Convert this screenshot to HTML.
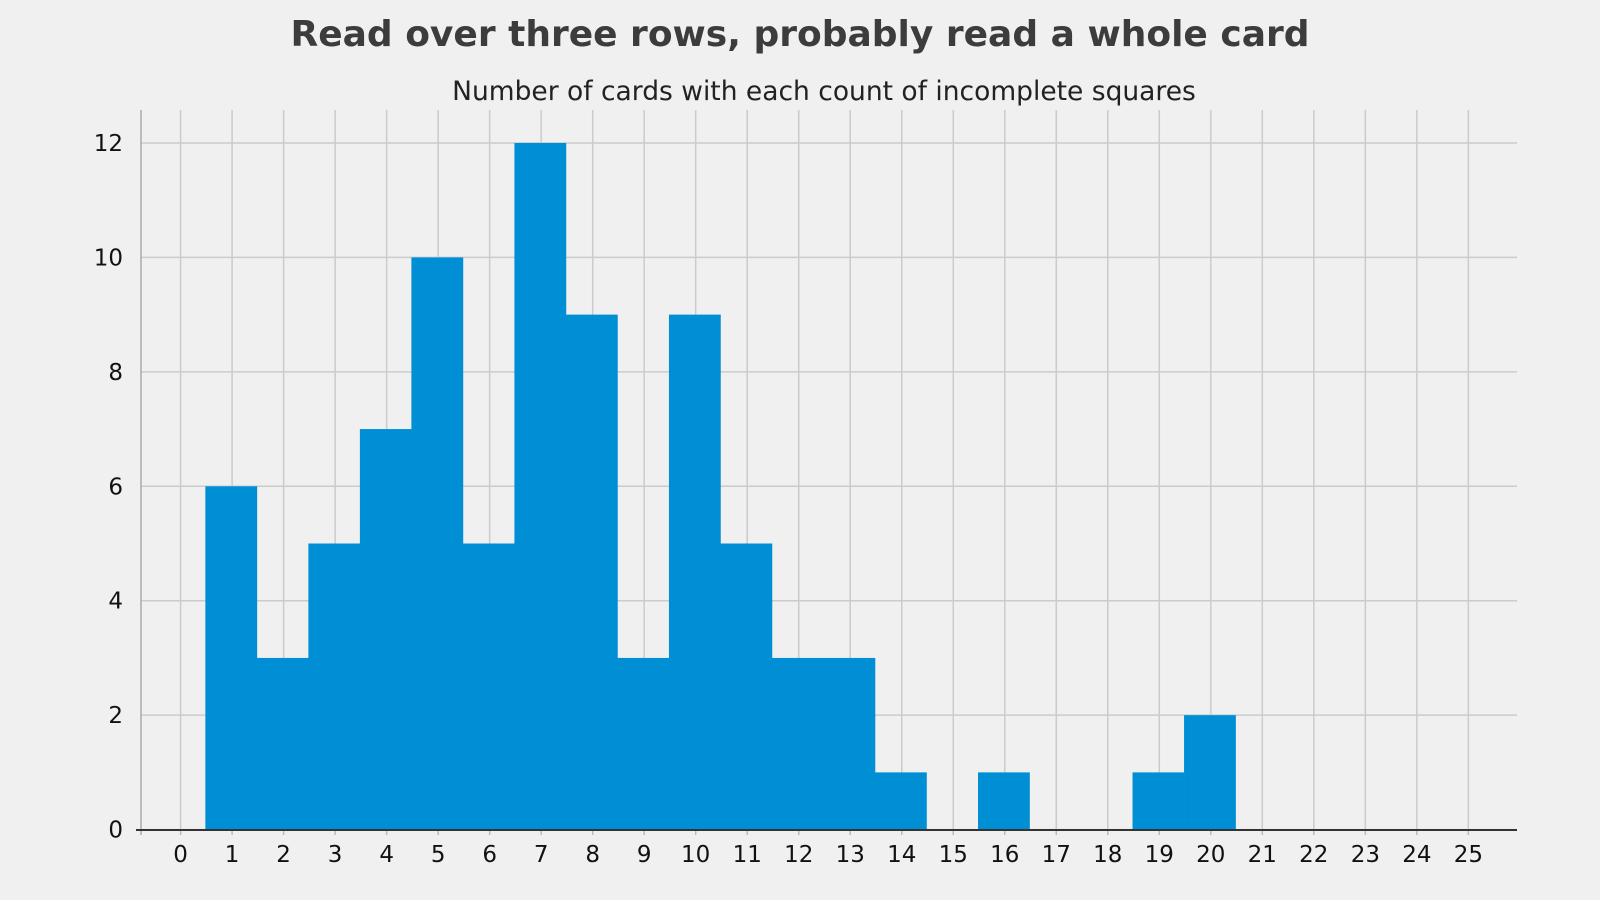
<!DOCTYPE html>
<html><head><meta charset="utf-8"><style>
html,body{margin:0;padding:0;background:#f0f0f0;}
svg{display:block;font-family:"DejaVu Sans","Liberation Sans",sans-serif;}
</style></head><body>
<svg id="chart" width="1600" height="900" viewBox="0 0 1600 900">
<rect width="1600" height="900" fill="#f0f0f0"/>
<text x="800" y="46" text-anchor="middle" font-size="36" font-weight="bold" fill="#3c3c3c">Read over three rows, probably read a whole card</text>
<text x="824" y="100" text-anchor="middle" font-size="26.5" fill="#222">Number of cards with each count of incomplete squares</text>
<g id="grid"></g><g id="bars"></g><g id="axes"></g>
</svg>
<script>
const categories=[0,1,2,3,4,5,6,7,8,9,10,11,12,13,14,15,16,17,18,19,20,21,22,23,24,25];
const counts=[0,6,3,5,7,10,5,12,9,3,9,5,3,3,1,0,1,0,0,1,2,0,0,0,0,0];
const yTicks=[0,2,4,6,8,10,12];
const NS="http://www.w3.org/2000/svg";
const pLeft=141,pRight=1517,pTop=110,pBottom=830;
const xs=v=>180.6+v*51.51;
const ys=v=>829.6-v*57.22;
function mk(tag,attrs,parent,txt){const e=document.createElementNS(NS,tag);for(const k in attrs)e.setAttribute(k,attrs[k]);if(txt!==undefined)e.textContent=txt;document.getElementById(parent).appendChild(e);return e;}
categories.forEach(c=>{
 const g=mk('line',{x1:xs(c),x2:xs(c),y1:pTop,y2:pBottom,stroke:'#cbcbcb','stroke-width':1.5},'grid');
 
 
 const t=mk('line',{x1:xs(c),x2:xs(c),y1:pBottom,y2:pBottom+5,stroke:'#bbb','stroke-width':1.5},'axes');
 
 
 const l=mk('text',{x:xs(c),y:862,'text-anchor':'middle','font-size':23,fill:'#111'},'axes',String(c));
 
 
});
yTicks.forEach(v=>{
 const g=mk('line',{x1:pLeft,x2:pRight,y1:ys(v),y2:ys(v),stroke:'#cbcbcb','stroke-width':1.5},'grid');
 
 
 const l=mk('text',{x:123,y:ys(v)+8,'text-anchor':'end','font-size':23,fill:'#111'},'axes',String(v));
 
 
});
categories.forEach((c,i)=>{
 if(!counts[i])return;
 const b=mk('rect',{x:xs(c-0.5)-1,y:ys(counts[i]),width:xs(c+0.5)-xs(c-0.5)+0.3,height:ys(0)-ys(counts[i]),fill:'#008fd5'},'bars');
 
 
});
const ls=mk('line',{x1:pLeft,x2:pLeft,y1:pTop,y2:pBottom+5,stroke:'#aaa','stroke-width':1.5},'axes');


const bs=mk('line',{x1:pLeft-5,x2:pRight,y1:pBottom,y2:pBottom,stroke:'#333','stroke-width':2},'axes');


</script>
</body></html>
